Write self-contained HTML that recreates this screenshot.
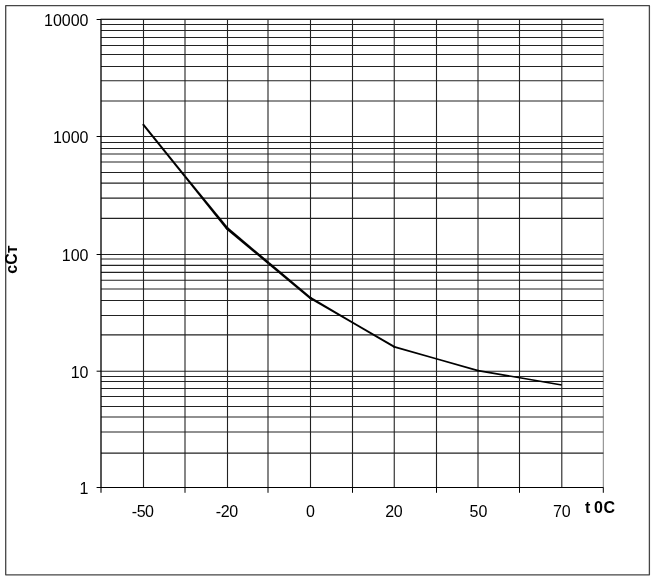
<!DOCTYPE html>
<html><head><meta charset="utf-8"><title>chart</title>
<style>
html,body{margin:0;padding:0;background:#fff;}
svg{display:block;will-change:transform;}
text{font-family:"Liberation Sans",sans-serif;fill:#000;}
</style></head><body>
<svg width="655" height="579" viewBox="0 0 655 579">
<rect x="0" y="0" width="655" height="579" fill="#fff"/>
<rect x="5.7" y="5.7" width="643.7" height="569.1" fill="none" stroke="#464646" stroke-width="1.3" stroke-linejoin="round"/>
<rect x="101.0" y="18.9" width="502.3" height="468.6" fill="none" stroke="#808080" stroke-width="1"/>
<g stroke="#222" stroke-width="1.1" fill="none">
<line x1="101.0" y1="19.5" x2="603.3" y2="19.5"/>
<line x1="101.0" y1="24.5" x2="603.3" y2="24.5"/>
<line x1="101.0" y1="30.5" x2="603.3" y2="30.5"/>
<line x1="101.0" y1="37.5" x2="603.3" y2="37.5"/>
<line x1="101.0" y1="45.5" x2="603.3" y2="45.5"/>
<line x1="101.0" y1="54.5" x2="603.3" y2="54.5"/>
<line x1="101.0" y1="66.5" x2="603.3" y2="66.5"/>
<line x1="101.0" y1="80.75" x2="603.3" y2="80.75"/>
<line x1="101.0" y1="101.0" x2="603.3" y2="101.0"/>
<line x1="101.0" y1="136.5" x2="603.3" y2="136.5"/>
<line x1="101.0" y1="142.5" x2="603.3" y2="142.5"/>
<line x1="101.0" y1="148.5" x2="603.3" y2="148.5"/>
<line x1="101.0" y1="154.0" x2="603.3" y2="154.0"/>
<line x1="101.0" y1="162.0" x2="603.3" y2="162.0"/>
<line x1="101.0" y1="172.5" x2="603.3" y2="172.5"/>
<line x1="101.0" y1="183.1" x2="603.3" y2="183.1"/>
<line x1="101.0" y1="198.1" x2="603.3" y2="198.1"/>
<line x1="101.0" y1="218.4" x2="603.3" y2="218.4"/>
<line x1="101.0" y1="254.5" x2="603.3" y2="254.5"/>
<line x1="101.0" y1="259.0" x2="603.3" y2="259.0"/>
<line x1="101.0" y1="265.4" x2="603.3" y2="265.4"/>
<line x1="101.0" y1="272.4" x2="603.3" y2="272.4"/>
<line x1="101.0" y1="280.3" x2="603.3" y2="280.3"/>
<line x1="101.0" y1="289.0" x2="603.3" y2="289.0"/>
<line x1="101.0" y1="300.5" x2="603.3" y2="300.5"/>
<line x1="101.0" y1="315.5" x2="603.3" y2="315.5"/>
<line x1="101.0" y1="334.9" x2="603.3" y2="334.9"/>
<line x1="101.0" y1="371.2" x2="603.3" y2="371.2"/>
<line x1="101.0" y1="376.5" x2="603.3" y2="376.5"/>
<line x1="101.0" y1="381.5" x2="603.3" y2="381.5"/>
<line x1="101.0" y1="388.5" x2="603.3" y2="388.5"/>
<line x1="101.0" y1="396.5" x2="603.3" y2="396.5"/>
<line x1="101.0" y1="406.5" x2="603.3" y2="406.5"/>
<line x1="101.0" y1="417.0" x2="603.3" y2="417.0"/>
<line x1="101.0" y1="432.0" x2="603.3" y2="432.0"/>
<line x1="101.0" y1="453.1" x2="603.3" y2="453.1"/>
<line x1="143.5" y1="19.5" x2="143.5" y2="487.5"/>
<line x1="185.0" y1="19.5" x2="185.0" y2="487.5"/>
<line x1="227.5" y1="19.5" x2="227.5" y2="487.5"/>
<line x1="268.0" y1="19.5" x2="268.0" y2="487.5"/>
<line x1="310.5" y1="19.5" x2="310.5" y2="487.5"/>
<line x1="352.5" y1="19.5" x2="352.5" y2="487.5"/>
<line x1="394.25" y1="19.5" x2="394.25" y2="487.5"/>
<line x1="436.5" y1="19.5" x2="436.5" y2="487.5"/>
<line x1="478.0" y1="19.5" x2="478.0" y2="487.5"/>
<line x1="519.5" y1="19.5" x2="519.5" y2="487.5"/>
<line x1="561.8" y1="19.5" x2="561.8" y2="487.5"/>
</g>
<g stroke="#000" stroke-width="1" fill="none">
<line x1="101.0" y1="19.5" x2="101.0" y2="492.8" stroke-width="1.1"/>
<line x1="96.6" y1="487.5" x2="603.3" y2="487.5"/>
<line x1="96.6" y1="19.5" x2="101.0" y2="19.5"/>
<line x1="96.6" y1="136.5" x2="101.0" y2="136.5"/>
<line x1="96.6" y1="254.5" x2="101.0" y2="254.5"/>
<line x1="96.6" y1="371.2" x2="101.0" y2="371.2"/>
<line x1="185.0" y1="487.5" x2="185.0" y2="492.8"/>
<line x1="268.0" y1="487.5" x2="268.0" y2="492.8"/>
<line x1="352.5" y1="487.5" x2="352.5" y2="492.8"/>
<line x1="436.5" y1="487.5" x2="436.5" y2="492.8"/>
<line x1="519.5" y1="487.5" x2="519.5" y2="492.8"/>
<line x1="603.3" y1="487.5" x2="603.3" y2="492.8"/>
</g>
<g fill="#000" stroke="none">
<polygon points="142.12,124.83 184.20,176.94 185.80,175.66 143.68,123.57"/>
<polygon points="184.20,176.94 226.05,229.25 228.15,227.55 185.80,175.66"/>
<polygon points="226.23,229.44 268.03,264.17 269.57,262.33 227.97,227.36"/>
<polygon points="268.03,264.17 309.75,299.00 311.25,297.20 269.57,262.33"/>
<polygon points="309.91,299.12 351.95,323.36 352.95,321.64 311.09,297.08"/>
<polygon points="351.95,323.36 393.91,347.74 394.89,346.06 352.95,321.64"/>
<polygon points="394.13,347.84 435.97,359.57 436.43,357.93 394.67,345.96"/>
<polygon points="435.97,359.57 477.75,371.49 478.25,369.71 436.43,357.93"/>
<polygon points="477.84,371.51 519.71,378.61 519.99,376.99 478.16,369.69"/>
<polygon points="519.71,378.61 561.55,385.86 561.85,384.14 519.99,376.99"/>
<circle cx="227.1" cy="228.4" r="1.35"/>
<circle cx="310.5" cy="298.1" r="1.175"/>
<circle cx="394.4" cy="346.9" r="0.975"/>
<circle cx="478.0" cy="370.6" r="0.925"/>
</g>
<g font-size="16px" text-anchor="end">
<text x="88.5" y="25.8">10000</text>
<text x="88.5" y="142.8">1000</text>
<text x="88.5" y="260.5">100</text>
<text x="88.5" y="378.1">10</text>
<text x="88.5" y="494.4">1</text>
</g>
<g font-size="16px" text-anchor="middle">
<text x="142.65" y="517.2" letter-spacing="-0.45">-50</text>
<text x="226.75" y="517.2" letter-spacing="-0.45">-20</text>
<text x="310.5" y="517.2" letter-spacing="0">0</text>
<text x="393.8" y="517.2" letter-spacing="-0.4">20</text>
<text x="478.4" y="517.2" letter-spacing="0">50</text>
<text x="561.7" y="517.2" letter-spacing="-0.3">70</text>
</g>
<g font-size="16px" font-weight="bold"><text x="585.1" y="513.4">t</text><text x="594.0" y="513.4">0</text><text x="603.5" y="513.4">C</text></g>
<text transform="translate(17.1,273.7) rotate(-90)" font-size="16px" font-weight="bold">сСт</text>
</svg></body></html>
